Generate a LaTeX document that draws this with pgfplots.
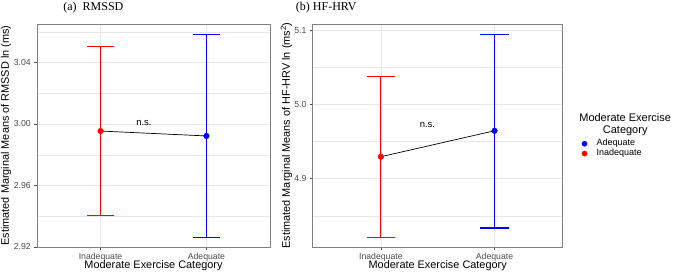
\documentclass[border=0pt]{standalone}
\usepackage{pgfplots}
\pgfplotsset{compat=1.18}
\usepackage{fontspec}
\setmainfont{Liberation Sans}
\newfontfamily\seriffont{Liberation Serif}
\definecolor{gridc}{gray}{0.91}
\definecolor{axc}{gray}{0.3}
\definecolor{boxc}{gray}{0.5}
\definecolor{myblue}{rgb}{0,0,1}
\definecolor{myred}{rgb}{1,0,0}
\begin{document}
\begin{tikzpicture}
\path[use as bounding box] (0,0) rectangle (676pt,272pt);
\pgfplotsset{
 myax/.style={
  scale only axis, height=223pt, xmin=0.4, xmax=2.6,
  xtick={1,2}, xticklabels={Inadequate,Adequate},
  axis line style={boxc, line width=0.6pt},
  tick align=outside, major tick length=2.75pt, minor tick length=0pt,
  xtick pos=lower, ytick pos=left,
  tick style={axc, line width=0.5pt},
  ymajorgrids, yminorgrids, xmajorgrids,
  major grid style={gridc, line width=0.6pt},
  minor grid style={gridc, line width=0.35pt},
  ticklabel style={font=\fontsize{8.7}{10}\selectfont, text=axc},
  /pgf/number format/assume math mode=true,
  /pgf/number format/fixed, /pgf/number format/fixed zerofill,
  xlabel={Moderate Exercise Category},
  every axis x label/.style={at={(axis description cs:0.5,-0.085)}, anchor=center, font=\fontsize{10.9}{12}\selectfont},
  clip=false,
 }
}
\begin{axis}[myax, width=233pt, at={(37pt,25pt)}, anchor=south west,
  ymin=2.92, ymax=3.065,
  ytick={2.92,2.96,3.00,3.04}, minor ytick={2.94,2.98,3.02,3.06},
  /pgf/number format/precision=2,
  ylabel={Estimated Marginal Means of RMSSD ln (ms)},
  every axis y label/.style={at={(axis description cs:-0.133,0.5)}, rotate=90, anchor=center, font=\fontsize{10.9}{12}\selectfont},
]
\addplot[myred, line width=1.1pt] coordinates {(1,2.9407) (1,3.0502)};
\addplot[myred, line width=1.1pt] coordinates {(0.875,3.0502) (1.125,3.0502)};
\addplot[myred, line width=1.1pt] coordinates {(0.875,2.9407) (1.125,2.9407)};
\addplot[myblue, line width=1.1pt] coordinates {(2,2.9262) (2,3.0582)};
\addplot[myblue, line width=1.1pt] coordinates {(1.875,3.0582) (2.125,3.0582)};
\addplot[myblue, line width=1.1pt] coordinates {(1.875,2.9262) (2.125,2.9262)};
\addplot[black, line width=0.7pt] coordinates {(1,2.9954) (2,2.9922)};
\addplot[only marks, mark=*, myred, mark size=2.8pt] coordinates {(1,2.9954)};
\addplot[only marks, mark=*, myblue, mark size=2.8pt] coordinates {(2,2.9922)};
\node[font=\fontsize{9.5}{10}\selectfont] at (axis cs:1.41,3.0005) {n.s.};
\end{axis}
\begin{axis}[myax, width=250pt, at={(312.7pt,25pt)}, anchor=south west,
  ymin=4.8081, ymax=5.1082,
  ytick={4.9,5.0,5.1}, minor ytick={4.85,4.95,5.05},
  /pgf/number format/precision=1,
  ylabel={Estimated Marginal Means of HF-HRV ln (ms\textsuperscript{2})},
  every axis y label/.style={at={(axis description cs:-0.105,0.5)}, rotate=90, anchor=center, font=\fontsize{10.9}{12}\selectfont},
  legend style={draw=none, fill=none, at={(axis description cs:1.076,0.441)}, anchor=west,
    font=\fontsize{9}{10}\selectfont, inner sep=0pt, column sep=9pt,
    nodes={inner sep=0.5pt, text height=6.6pt, text depth=2.2pt}},
  legend cell align=left,
  legend image code/.code={\draw[#1] plot coordinates {(0pt,0pt)};},
]
\addplot[myred, line width=1.1pt, forget plot] coordinates {(1,4.8210) (1,5.0380)};
\addplot[myred, line width=1.1pt, forget plot] coordinates {(0.875,5.0380) (1.125,5.0380)};
\addplot[myred, line width=1.1pt, forget plot] coordinates {(0.875,4.8210) (1.125,4.8210)};
\addplot[myblue, line width=1.1pt, forget plot] coordinates {(2,4.8336) (2,5.0946)};
\addplot[myblue, line width=1.1pt, forget plot] coordinates {(1.875,5.0946) (2.125,5.0946)};
\addplot[myblue, line width=1.1pt, forget plot] coordinates {(1.875,4.8336) (2.125,4.8336)};
\addplot[black, line width=0.7pt, forget plot] coordinates {(1,4.9296) (2,4.9645)};
\addplot[only marks, mark=*, myred, mark size=2.8pt, forget plot] coordinates {(1,4.9296)};
\addplot[only marks, mark=*, myblue, mark size=2.8pt, forget plot] coordinates {(2,4.9645)};
\addlegendimage{only marks, mark=*, myblue, mark size=2.6pt}
\addlegendentry{Adequate}
\addlegendimage{only marks, mark=*, myred, mark size=2.6pt}
\addlegendentry{Inadequate}
\node[font=\fontsize{9.5}{10}\selectfont] at (axis cs:1.41,4.972) {n.s.};
\node[font=\fontsize{11}{11.3}\selectfont, align=center] at (axis description cs:1.25,0.549) {Moderate Exercise\\Category};
\end{axis}
\node[font=\seriffont\fontsize{12}{12}\selectfont] at (93.4pt,264.5pt) {(a)\ \ RMSSD};
\node[font=\seriffont\fontsize{12}{12}\selectfont] at (326.3pt,264.8pt) {(b) HF-HRV};
\end{tikzpicture}
\end{document}
